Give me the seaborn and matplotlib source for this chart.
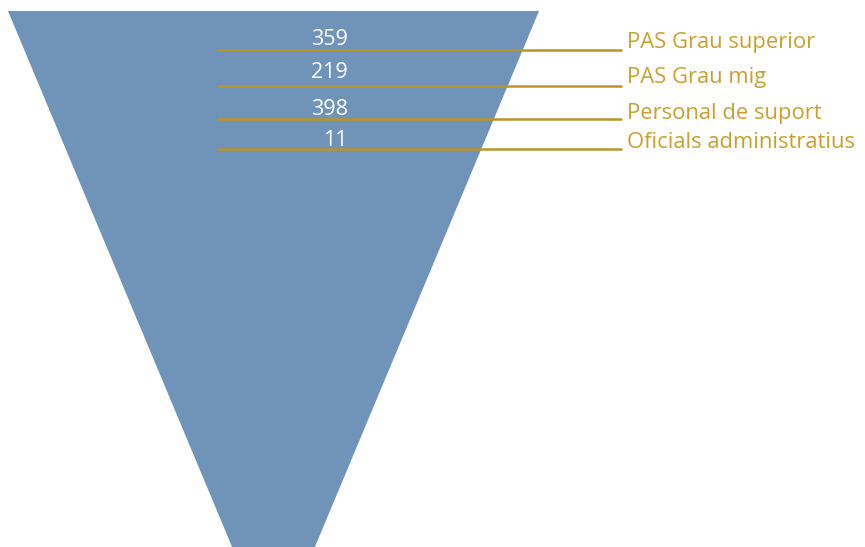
import matplotlib
matplotlib.use("Agg")
import matplotlib.pyplot as plt
import seaborn as sns
import pandas as pd

# Data
categories = ["PAS Grau superior", "PAS Grau mig", "Personal de suport", "Oficials administratius"]
values = [359, 219, 398, 11]

# Layout (pixel-like coordinates of the canvas)
funnel_x = [8, 539, 273.5]
funnel_y = [11, 11, 646]
line_y = [50, 86, 119, 149]
value_baseline = [45, 78, 115, 146]
label_baseline = [48, 83, 119, 148]
line_x0, line_x1 = 218, 621
label_x = 627
value_x = 348

sns.set_theme(style="white")
plt.rcParams['font.family'] = ['Open Sans', 'DejaVu Sans']

fig = plt.figure(figsize=(8.65, 5.47), dpi=100)
ax = fig.add_axes([0, 0, 1, 1])
ax.set_xlim(0, 865)
ax.set_ylim(547, 0)
ax.axis("off")

ax.fill(funnel_x, funnel_y, color="#7093b9", lw=0)

df = pd.DataFrame({"category": categories, "value": values, "y": line_y,
                   "vy": value_baseline, "ly": label_baseline})
for _, r in df.iterrows():
    sns.lineplot(x=[line_x0, line_x1], y=[r["y"], r["y"]], ax=ax, color="#b8952a", lw=1.8)
    ax.text(value_x, r["vy"], str(r["value"]), color="white", fontsize=15.5,
            ha="right", va="baseline")
    ax.text(label_x, r["ly"], r["category"], color="#c9a02c", fontsize=15.8,
            ha="left", va="baseline")

fig.savefig("out.png", dpi=100)
